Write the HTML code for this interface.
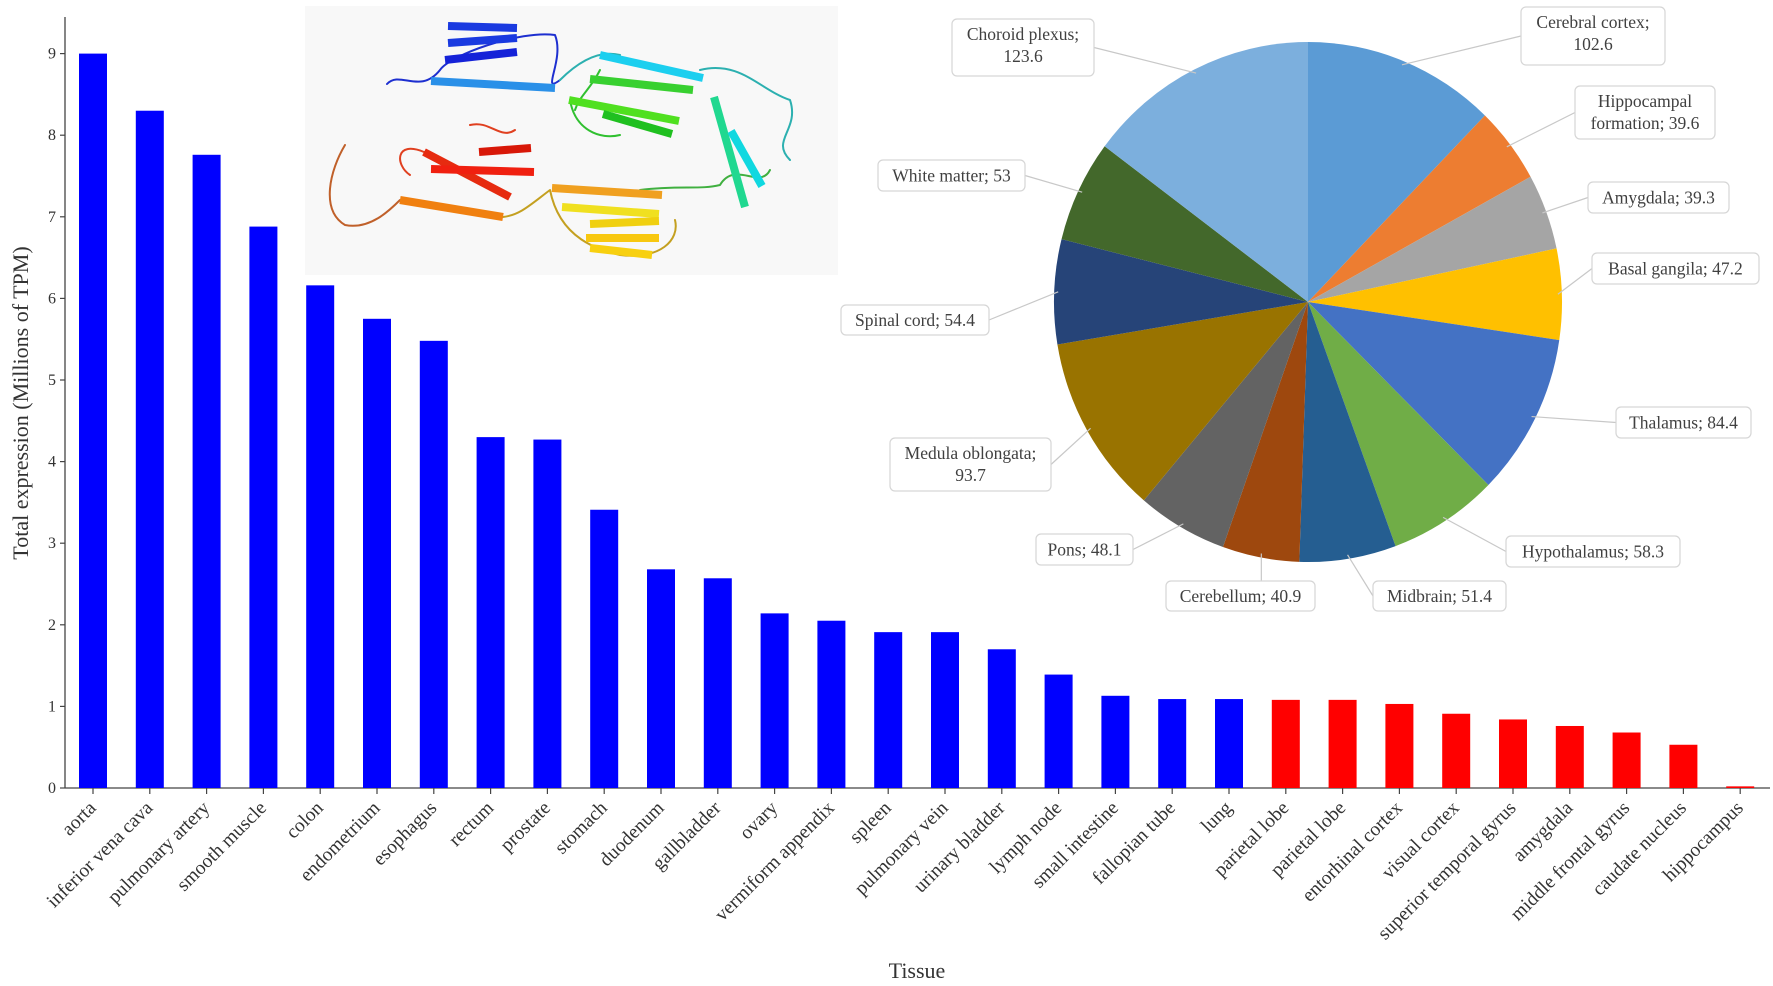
<!DOCTYPE html>
<html><head><meta charset="utf-8">
<style>
html,body{margin:0;padding:0;background:#fff;}
svg{display:block;font-family:"Liberation Serif",serif;}
</style></head>
<body>
<svg id="chart" width="1773" height="986" viewBox="0 0 1773 986" xmlns="http://www.w3.org/2000/svg">
<g id="protein">
<rect x="305" y="6" width="533" height="269" fill="#f8f8f8"/>
<g fill="none" stroke-linecap="round" stroke-linejoin="round">
<path d="M387,84 C400,70 420,95 440,70 C450,55 520,30 555,35 C565,60 540,95 560,80" stroke="#1d2fd0" stroke-width="2"/>
<path d="M560,80 C580,60 600,50 620,55 M700,70 C740,60 760,90 790,100 C800,130 770,140 790,160" stroke="#2cb0b0" stroke-width="2"/>
<path d="M345,145 C330,170 320,210 345,225 C370,230 390,210 400,200" stroke="#c0602a" stroke-width="2"/>
<path d="M503,217 C520,215 530,205 550,190 C560,240 600,250 620,255 C660,260 680,240 675,220" stroke="#c4a020" stroke-width="2"/>
<path d="M640,190 C680,185 700,190 720,185 C735,160 760,190 770,170" stroke="#40b040" stroke-width="2"/>
<path d="M570,100 C575,130 600,140 620,135 M600,70 C590,90 580,95 575,110" stroke="#30c030" stroke-width="2"/>
<path d="M424,152 C395,140 395,165 410,175 M470,125 C490,120 500,140 515,130" stroke="#e04020" stroke-width="2"/>
</g>
<g stroke-width="8" stroke-linecap="butt">
<line x1="448" y1="26" x2="517" y2="28" stroke="#1a3ae0"/>
<line x1="448" y1="43" x2="517" y2="38" stroke="#1a3ae0"/>
<line x1="445" y1="60" x2="517" y2="52" stroke="#1522d8"/>
<line x1="431" y1="81" x2="555" y2="88" stroke="#2a90e8"/>
<line x1="600" y1="55" x2="703" y2="78" stroke="#1ccfef"/>
<line x1="590" y1="79" x2="693" y2="90" stroke="#38d030"/>
<line x1="569" y1="100" x2="679" y2="121" stroke="#50e020"/>
<line x1="603" y1="114" x2="672" y2="134" stroke="#20c020"/>
<line x1="714" y1="97" x2="745" y2="207" stroke="#20d890"/>
<line x1="731" y1="131" x2="762" y2="186" stroke="#10d8e0"/>
<line x1="424" y1="152" x2="510" y2="197" stroke="#e62b10"/>
<line x1="431" y1="169" x2="534" y2="172" stroke="#f02010"/>
<line x1="479" y1="152" x2="531" y2="148" stroke="#d81808"/>
<line x1="400" y1="200" x2="503" y2="217" stroke="#f08010"/>
<line x1="552" y1="188" x2="662" y2="195" stroke="#f0a020"/>
<line x1="562" y1="207" x2="659" y2="214" stroke="#f0e020"/>
<line x1="590" y1="224" x2="659" y2="221" stroke="#f0d010"/>
<line x1="586" y1="238" x2="659" y2="238" stroke="#f8c810"/>
<line x1="590" y1="248" x2="652" y2="255" stroke="#f8d010"/>
</g>
</g>
<g id="bars"></g>
<g id="pie"></g>
</svg>
<script>
const categories=["aorta","inferior vena cava","pulmonary artery","smooth muscle","colon","endometrium","esophagus","rectum","prostate","stomach","duodenum","gallbladder","ovary","vermiform appendix","spleen","pulmonary vein","urinary bladder","lymph node","small intestine","fallopian tube","lung","parietal lobe","parietal lobe","entorhinal cortex","visual cortex","superior temporal gyrus","amygdala","middle frontal gyrus","caudate nucleus","hippocampus"];
const values=[9.0,8.3,7.76,6.88,6.16,5.75,5.48,4.3,4.27,3.41,2.68,2.57,2.14,2.05,1.91,1.91,1.7,1.39,1.13,1.09,1.09,1.08,1.08,1.03,0.91,0.84,0.76,0.68,0.53,0.02];
const groups=["blue","blue","blue","blue","blue","blue","blue","blue","blue","blue","blue","blue","blue","blue","blue","blue","blue","blue","blue","blue","blue","red","red","red","red","red","red","red","red","red"];
const yTicks=[0,1,2,3,4,5,6,7,8,9];
const pieLabels=["Cerebral cortex","Hippocampal formation","Amygdala","Basal gangila","Thalamus","Hypothalamus","Midbrain","Cerebellum","Pons","Medula oblongata","Spinal cord","White matter","Choroid plexus"];
const pieValues=[102.6,39.6,39.3,47.2,84.4,58.3,51.4,40.9,48.1,93.7,54.4,53,123.6];

const NS="http://www.w3.org/2000/svg";
function mk(tag,attrs,parent){const e=document.createElementNS(NS,tag);for(const k in attrs)e.setAttribute(k,attrs[k]);parent.appendChild(e);return e;}
const X0=65,X1=1770,Y0=788,Ytop=17,firstC=93,step=56.8,bw=28;
const y=v=>Y0-v*81.6;
const x=i=>firstC+i*step;
const gb=document.getElementById('bars');
let ax=mk('line',{x1:X0,y1:Ytop,x2:X0,y2:Y0,stroke:'#444','stroke-width':1.3},gb);


let ax2=mk('line',{x1:X0,y1:Y0,x2:X1,y2:Y0,stroke:'#444','stroke-width':1.3},gb);


yTicks.forEach(t=>{
  mk('line',{x1:X0-5,y1:y(t),x2:X0,y2:y(t),stroke:'#444','stroke-width':1.2},gb);
  const tx=mk('text',{x:X0-9,y:y(t)+5,'text-anchor':'end','font-size':16,fill:'#333'},gb);
  tx.textContent=t;
  
  
});
categories.forEach((c,i)=>{
  const r=mk('rect',{x:x(i)-bw/2,y:y(values[i]),width:bw,height:Y0-y(values[i]),fill:groups[i]==='red'?'#ff0000':'#0000ff'},gb);
  
  
  mk('line',{x1:x(i),y1:Y0,x2:x(i),y2:Y0+6,stroke:'#444','stroke-width':1.2},gb);
  const t=mk('text',{x:0,y:0,'text-anchor':'end','font-size':19.5,fill:'#333',transform:`translate(${x(i)+4},${Y0+21}) rotate(-45)`},gb);
  t.textContent=c;
  
  
});
const yl=mk('text',{x:0,y:0,'text-anchor':'middle','font-size':22,fill:'#333',transform:'translate(28,403) rotate(-90)'},gb);
yl.textContent='Total expression (Millions of TPM)';


const xl=mk('text',{x:917,y:978,'text-anchor':'middle','font-size':22,fill:'#333'},gb);
xl.textContent='Tissue';



const colors=["#5b9bd5","#ed7d31","#a5a5a5","#ffc000","#4472c4","#70ad47","#255e91","#9e480e","#636363","#997300","#264478","#43682b","#7cafdd"];
const boxes=[[1521,7,1665,65],[1575,86,1715,139],[1588,182,1729,213],[1592,253,1759,284],[1616,407,1751,438],[1506,536,1680,567],[1373,581,1506,611],[1166,581,1315,611],[1036,534,1133,565],[890,438,1051,491],[841,305,989,335],[878,160,1025,191],[952,19,1094,76]];
const twoLine=[["Cerebral cortex;","102.6"],["Hippocampal","formation; 39.6"],null,null,null,null,null,null,null,["Medula oblongata;","93.7"],null,null,["Choroid plexus;","123.6"]];
const cx=1308,cy=302,rx=254,ry=260;
const gp=document.getElementById('pie');
const total=pieValues.reduce((a,b)=>a+b,0);
let a=0;
pieValues.forEach((v,i)=>{
  const a0=a,a1=a+v/total*2*Math.PI;a=a1;
  const p=t=>[cx+rx*Math.sin(t),cy-ry*Math.cos(t)];
  const [x0,y0]=p(a0),[x1,y1]=p(a1);
  const large=(a1-a0)>Math.PI?1:0;
  const s=mk('path',{d:`M${cx},${cy} L${x0},${y0} A${rx},${ry} 0 ${large} 1 ${x1},${y1} Z`,fill:colors[i]},gp);
  
  
  const am=(a0+a1)/2;const [mx,my]=[cx+(rx-4)*Math.sin(am),cy-(ry-4)*Math.cos(am)];
  const b=boxes[i];
  const bx=Math.max(b[0],Math.min(b[2],mx));
  const ex=(mx<b[0])?b[0]:(mx>b[2]?b[2]:bx);
  const ey=(b[1]+b[3])/2;
  const useY=(mx>=b[0]&&mx<=b[2])?(my<b[1]?b[1]:b[3]):ey;
  mk('polyline',{points:`${mx},${my} ${ex},${useY}`,fill:'none',stroke:'#c8c8c8','stroke-width':1.2},gp);
});
pieValues.forEach((v,i)=>{
  const b=boxes[i];
  const r=mk('rect',{x:b[0],y:b[1],width:b[2]-b[0],height:b[3]-b[1],rx:5,fill:'#fff',stroke:'#d6d6d6','stroke-width':1.2},gp);
  
  
  const mxx=(b[0]+b[2])/2;
  const lines=twoLine[i]||[pieLabels[i]+'; '+v];
  lines.forEach((ln,k)=>{
    const ty=lines.length===1?(b[1]+b[3])/2+6:b[1]+21+k*22;
    const t=mk('text',{x:mxx,y:ty,'text-anchor':'middle','font-size':17.5,fill:'#404040'},gp);
    t.textContent=ln;
    
    
  });
});
</script>
</body></html>
